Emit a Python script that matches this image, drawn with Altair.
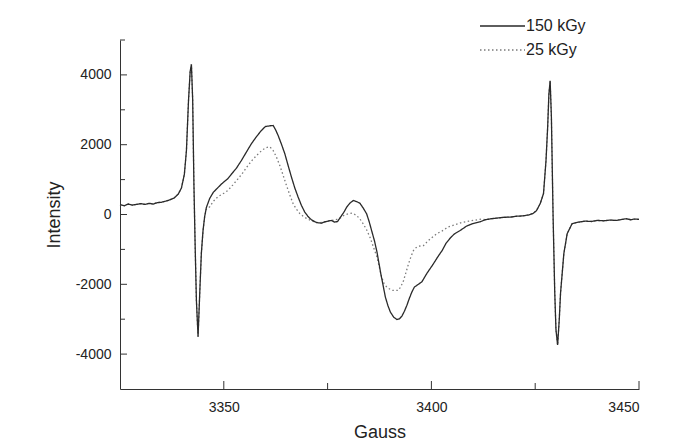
import altair as alt
import pandas as pd

# ---- data (EPR spectra) ----
gauss_150 = [3325.0, 3326.0, 3327.0, 3328.0, 3329.0, 3330.0, 3331.0, 3332.0, 3333.0, 3334.0,
             3335.0, 3336.0, 3337.0, 3338.0, 3339.0, 3339.8, 3340.5, 3341.0, 3341.5, 3341.9,
             3342.2, 3342.5, 3342.8, 3343.1, 3343.4, 3343.8, 3344.3, 3344.6, 3345.0, 3345.4,
             3345.8, 3346.6, 3347.5, 3348.5, 3349.5, 3350.5, 3351.0, 3352.0, 3353.0, 3354.2,
             3355.4, 3356.6, 3357.8, 3359.0, 3360.0, 3361.0, 3361.9, 3362.5, 3363.1, 3363.9,
             3364.7, 3365.5, 3366.3, 3367.1, 3367.9, 3368.7, 3369.5, 3370.3, 3371.1, 3372.3,
             3373.5, 3374.3, 3375.1, 3375.9, 3376.7, 3377.4, 3378.2, 3379.0, 3379.6, 3380.4,
             3381.2, 3382.0, 3382.8, 3383.6, 3384.4, 3385.0, 3385.6, 3386.3, 3386.9, 3387.8,
             3388.4, 3388.9, 3389.5, 3390.1, 3390.9, 3391.7, 3392.3, 3392.9, 3393.5, 3394.1,
             3394.7, 3395.3, 3395.9, 3396.5, 3397.1, 3397.7, 3398.3, 3398.9, 3399.7, 3400.5,
             3401.5, 3402.6, 3403.5, 3404.5, 3405.5, 3406.9, 3408.5, 3410.0, 3411.7, 3413.0,
             3414.5, 3416.0, 3417.5, 3419.0, 3420.5, 3422.0, 3423.5, 3424.5, 3425.3, 3426.2,
             3427.0, 3427.6, 3428.0, 3428.3, 3428.6, 3428.9, 3429.3, 3429.7, 3430.0, 3430.4,
             3430.8, 3431.1, 3431.9, 3432.7, 3433.9, 3435.4, 3437.0, 3438.5, 3440.0, 3441.5,
             3443.0, 3444.5, 3446.0, 3447.0, 3448.0, 3449.0, 3450.0]
intensity_150 = [280, 250, 300, 270, 290, 310, 290, 320, 300, 340,
                 350, 380, 420, 470, 580, 760, 1150, 1830, 3260, 4100,
                 4300, 3300, 880, -900, -2460, -3500, -1970, -1100, -460, -50,
                 200, 460, 640, 760, 880, 980, 1030, 1180, 1320, 1540,
                 1780, 2020, 2220, 2400, 2520, 2540, 2550, 2420, 2260, 2010,
                 1740, 1400, 1070, 760, 500, 260, 70, -60, -150, -230,
                 -250, -210, -190, -170, -220, -200, -60, 80, 210, 330,
                 400, 370, 320, 180, 20, -200, -460, -760, -1080, -1690,
                 -2050, -2360, -2600, -2790, -2940, -3010, -2990, -2910, -2770, -2600,
                 -2400, -2220, -2080, -2030, -1980, -1930, -1810, -1690, -1550, -1410,
                 -1220, -1030, -830, -680, -560, -460, -330, -260, -210, -150,
                 -120, -100, -80, -75, -50, -40, -10, 30, 110, 310,
                 600, 1540, 2500, 3450, 3830, 2800, 0, -2200, -3300, -3740,
                 -3000, -2260, -1120, -550, -260, -220, -190, -200, -170, -180,
                 -160, -170, -140, -120, -150, -130, -140]

# 25 kGy: where it differs from the 150 kGy trace (it coincides outside this range)
gauss_25_mid = [3345.8, 3346.6, 3347.5, 3348.6, 3350.0, 3351.0, 3352.2, 3353.4, 3354.6, 3355.8,
                3357.0, 3358.3, 3359.3, 3360.3, 3361.1, 3361.9, 3362.7, 3363.5, 3364.3, 3365.1,
                3365.9, 3366.7, 3367.5, 3368.3, 3369.1, 3369.9, 3370.9, 3371.9, 3373.0, 3374.0,
                3375.0, 3376.0, 3377.2, 3378.2, 3379.0, 3380.0, 3381.0, 3382.0, 3382.8, 3383.6,
                3384.4, 3385.2, 3386.0, 3386.9, 3388.0, 3388.6, 3389.3, 3390.5, 3391.3, 3392.1,
                3392.7, 3393.3, 3393.9, 3394.5, 3395.1, 3395.7, 3396.3, 3396.9, 3398.1, 3399.0,
                3399.7, 3401.3, 3402.6, 3404.0, 3405.7, 3407.3, 3409.0, 3410.6, 3412.2]
intensity_25_mid = [150, 220, 380, 510, 610, 690, 850, 1020, 1200, 1400,
                    1580, 1740, 1850, 1920, 1940, 1830, 1640, 1400, 1120, 830,
                    560, 310, 150, 30, -50, -110, -170, -210, -240, -220,
                    -190, -170, -140, -90, -20, 20, 40, -30, -130, -270,
                    -440, -650, -920, -1220, -1790, -1980, -2090, -2170, -2180, -2170,
                    -2050, -1890, -1650, -1410, -1200, -1030, -950, -910, -890, -780,
                    -700, -550, -470, -360, -290, -230, -190, -160, -130]

series_names = ["150 kGy", "25 kGy"]
x_labels = [3350, 3400, 3450]
x_minor = [3375, 3425]
y_labels = [-4000, -2000, 0, 2000, 4000]
y_minor = [-3000, -1000, 1000, 3000, 5000]

# ---- build tables ----
df150 = pd.DataFrame({"gauss": gauss_150, "intensity": intensity_150, "series": series_names[0]})
left = df150[df150.gauss <= 3345.4]
right = df150[df150.gauss >= 3413.0]
mid = pd.DataFrame({"gauss": gauss_25_mid, "intensity": intensity_25_mid})
df25 = pd.concat([left[["gauss", "intensity"]], mid, right[["gauss", "intensity"]]], ignore_index=True)
df25["series"] = series_names[1]
df = pd.concat([df25, df150], ignore_index=True)
df["order"] = range(len(df))

FONT = "Liberation Sans"
TXT = "#222222"
xscale = alt.Scale(domain=[3325, 3450], nice=False, zero=False)
yscale = alt.Scale(domain=[-5000, 5000], nice=False, zero=False)
cscale = alt.Scale(domain=series_names, range=["#2a2a2a", "#7a7a7a"])
dscale = alt.Scale(domain=series_names, range=[[1, 0], [1.5, 2.5]])

xaxis = alt.Axis(values=x_labels, title="Gauss", format="d", tickSize=0,
                 labelPadding=11, titlePadding=9, grid=False)
yaxis = alt.Axis(values=y_labels, title="Intensity", tickSize=0, labelPadding=9,
                 titlePadding=12, grid=False,
                 labelExpr="datum.value < 0 ? '-' + abs(datum.value) : '' + datum.value")

lines = alt.Chart(df).mark_line(strokeWidth=1.3).encode(
    x=alt.X("gauss:Q", scale=xscale, axis=xaxis),
    y=alt.Y("intensity:Q", scale=yscale, axis=yaxis),
    color=alt.Color("series:N", scale=cscale, legend=None),
    strokeDash=alt.StrokeDash("series:N", scale=dscale, legend=None),
    detail="series:N",
    order="order:Q",
)

xt_major = alt.Chart(pd.DataFrame({"gauss": x_labels})).mark_rule(color="#333", strokeWidth=1).encode(
    x=alt.X("gauss:Q", scale=xscale, axis=xaxis), y=alt.value(349), y2=alt.value(341))
xt_minor = alt.Chart(pd.DataFrame({"gauss": x_minor})).mark_rule(color="#333", strokeWidth=1).encode(
    x=alt.X("gauss:Q", scale=xscale, axis=xaxis), y=alt.value(349), y2=alt.value(343))
yt_major = alt.Chart(pd.DataFrame({"intensity": y_labels})).mark_rule(color="#333", strokeWidth=1).encode(
    y=alt.Y("intensity:Q", scale=yscale, axis=yaxis), x=alt.value(0), x2=alt.value(7))
yt_minor = alt.Chart(pd.DataFrame({"intensity": y_minor})).mark_rule(color="#333", strokeWidth=1).encode(
    y=alt.Y("intensity:Q", scale=yscale, axis=yaxis), x=alt.value(0), x2=alt.value(5))

# legend (line sample + label) placed above the top-right of the plot
legend_layers = []
for i, name in enumerate(series_names):
    row_y = -14 + 24 * i
    src = pd.DataFrame({"series": [name]})
    legend_layers.append(
        alt.Chart(src).mark_rule(strokeWidth=1.3).encode(
            x=alt.value(360), x2=alt.value(405), y=alt.value(row_y),
            color=alt.Color("series:N", scale=cscale, legend=None),
            strokeDash=alt.StrokeDash("series:N", scale=dscale, legend=None),
        )
    )
    legend_layers.append(
        alt.Chart(src).mark_text(align="left", baseline="middle", font=FONT, fontSize=16,
                                 color=TXT).encode(
            x=alt.value(406), y=alt.value(row_y), text="series:N")
    )

chart = alt.layer(lines, xt_major, xt_minor, yt_major, yt_minor, *legend_layers).properties(
    width=519, height=349,
    autosize=alt.AutoSizeParams(type="none"),
    padding={"left": 112, "top": 32, "right": 53, "bottom": 57},
    background="white",
).configure_view(stroke=None).configure_axis(
    domainColor="#333", domainWidth=1,
    labelFont=FONT, labelFontSize=14, labelColor=TXT,
    titleFont=FONT, titleFontSize=18, titleColor=TXT, titleFontWeight="normal",
)

chart.save("out.html", embed_options={"renderer": "svg", "actions": False})
